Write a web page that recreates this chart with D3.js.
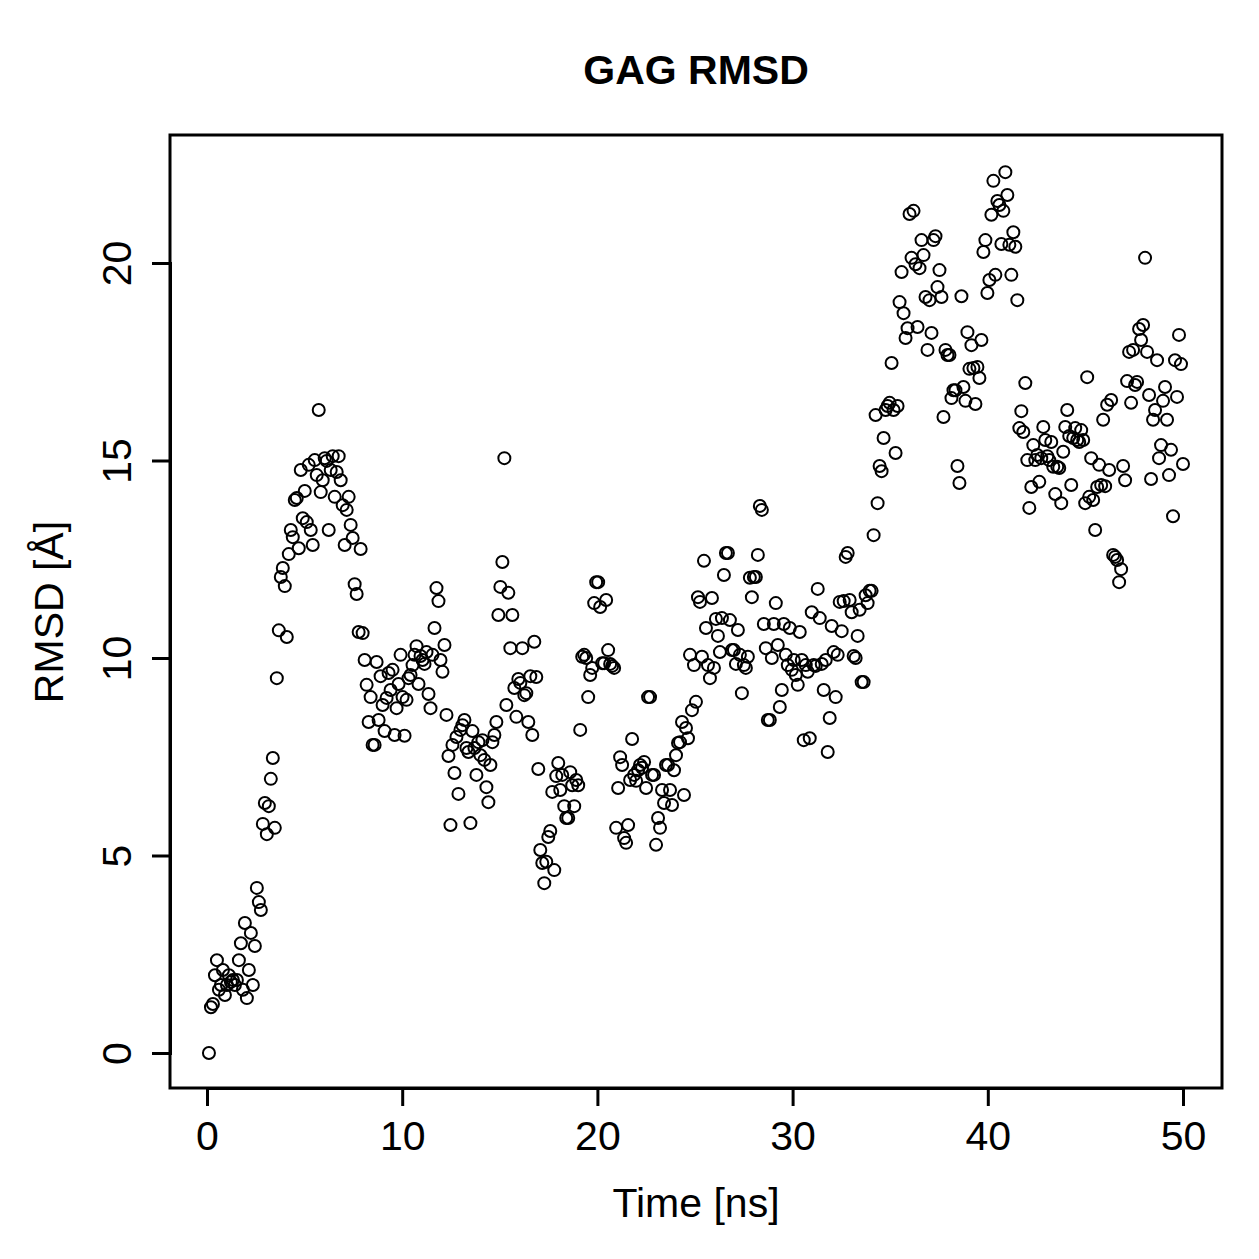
<!DOCTYPE html>
<html>
<head>
<meta charset="utf-8">
<script src="https://cdn.jsdelivr.net/npm/d3@7"></script>
<style>
  html, body { margin: 0; padding: 0; background: #fff; }
  svg { display: block; }
  text { font-family: "Liberation Sans", Arial, Helvetica, sans-serif; fill: #000; }
</style>
</head>
<body>
<svg id="chart" width="1259" height="1259"></svg>
<script>
// ---- data ----
const chartTitle = "GAG RMSD";
const xLabel = "Time [ns]";
const yLabel = "RMSD [Å]";
const xTicks = [0, 10, 20, 30, 40, 50];
const yTicks = [0, 5, 10, 15, 20];
const timeFirst = 0.1;   // ns
const timeLast = 50.0;   // ns
const rmsd = [
0.0,1.16,1.24,1.97,2.35,1.6,1.72,2.1,1.47,1.72,1.97,1.8,1.85,1.72,1.85,2.35,2.78,1.6,3.29,1.39,2.1,3.04,1.72,2.71,4.18,3.82,3.62,5.8,6.33,5.54,6.25,6.94,7.47,5.7,9.49,10.7,12.05,12.28,11.82,10.53,12.63,13.24,13.06,14.0,14.05,12.78,14.76,13.54,14.23,13.44,14.89,13.24,12.86,15.01,14.63,16.28,14.2,14.5,15.06,14.99,13.24,14.76,15.11,14.08,14.71,15.11,14.5,13.87,12.86,13.75,14.08,13.37,13.04,11.87,11.62,10.66,12.76,10.63,9.95,9.32,8.38,9.01,7.8,7.8,9.9,8.43,9.54,8.81,8.15,8.99,9.62,9.19,9.7,8.05,8.73,9.34,10.08,9.01,8.03,8.94,9.49,9.57,9.82,10.08,10.3,9.34,10.05,9.95,9.85,10.15,9.09,8.73,10.08,10.76,11.77,11.44,9.95,9.65,10.33,8.56,7.52,5.77,7.8,7.09,8.0,6.56,8.18,8.3,8.43,7.72,7.62,5.82,8.15,7.72,7.04,7.87,7.54,7.92,7.42,6.73,6.35,7.29,7.87,8.05,8.38,11.09,11.8,12.43,15.06,8.81,11.65,10.25,11.09,9.24,8.51,9.47,9.37,10.25,9.06,9.11,8.38,9.54,8.05,10.41,9.52,7.19,5.14,4.81,4.3,4.84,5.47,5.62,6.61,4.63,7.01,7.34,6.66,7.04,6.25,5.95,5.95,7.11,6.78,6.25,6.91,6.78,8.18,10.03,10.08,10.0,9.01,9.57,9.75,11.39,11.92,11.92,11.29,9.87,9.87,11.47,10.2,9.85,9.8,9.75,5.7,6.71,7.49,7.29,5.44,5.32,5.77,6.91,7.95,7.04,6.89,7.16,7.29,7.22,7.37,6.71,9.01,9.01,7.04,7.04,5.27,5.95,5.7,6.66,6.33,7.29,7.29,6.66,6.28,7.16,7.54,7.85,7.87,8.38,6.53,8.23,7.97,10.08,8.68,9.82,8.89,11.54,11.42,10.03,12.46,10.76,9.82,9.49,11.52,9.75,10.99,10.56,10.15,11.01,12.1,12.66,12.66,10.96,10.2,10.2,9.85,10.71,10.08,9.11,9.82,9.75,10.03,12.03,11.54,12.05,12.05,12.61,13.85,13.75,10.86,10.25,8.43,8.43,10.0,10.86,11.39,10.33,8.76,9.19,10.86,10.08,9.82,10.76,9.7,9.95,9.57,9.32,10.66,9.95,7.92,9.82,9.65,7.97,11.16,9.82,9.8,11.75,11.01,9.85,9.19,9.95,7.62,8.48,10.81,10.15,9.01,10.08,11.42,10.68,11.44,12.56,12.66,11.47,11.16,10.05,10.0,10.56,11.22,9.39,9.39,11.59,11.39,11.7,11.7,13.11,16.15,13.92,14.86,14.73,15.57,16.28,16.38,16.46,17.47,16.28,15.19,16.38,19.01,19.77,18.73,18.1,18.35,21.24,20.13,21.32,19.97,18.38,19.87,20.58,20.2,19.14,17.8,19.06,18.23,20.58,20.68,19.39,19.82,19.14,16.1,17.8,17.67,17.67,16.58,16.78,16.78,14.86,14.43,19.16,16.86,16.51,18.25,17.32,17.92,17.34,16.43,17.37,17.09,18.05,20.28,20.58,19.24,19.57,21.22,22.08,19.7,21.57,21.47,20.48,21.32,22.3,21.72,20.46,19.7,20.78,20.41,19.06,15.82,16.25,15.72,16.96,15.01,13.8,14.33,15.39,15.01,15.14,14.46,15.06,15.85,15.52,15.11,15.01,15.47,14.84,14.15,14.84,14.81,13.92,15.22,15.85,16.28,15.62,14.38,15.57,15.82,15.52,15.47,15.77,15.52,13.92,17.11,14.08,15.06,14.0,13.24,14.33,14.89,14.38,16.03,14.35,16.41,14.76,16.53,12.61,12.56,12.48,11.92,12.25,14.86,14.5,17.01,17.75,16.46,17.8,16.91,16.99,18.33,18.05,18.43,20.13,17.75,16.66,14.53,16.03,16.28,17.54,15.06,15.39,16.51,16.86,16.03,14.63,15.27,13.59,17.54,16.61,18.18,17.44,14.91
];
const times = rmsd.map((_, i) => timeFirst + i * (timeLast - timeFirst) / (rmsd.length - 1));
const points = rmsd.map((v, i) => ({ t: times[i], v: v }));

// ---- layout ----
const box = { left: 170, right: 1222, top: 135, bottom: 1088 };
const x = d3.scaleLinear().domain([0, 50]).range([207, 1183]);
const y = d3.scaleLinear().domain([0, 20]).range([1053, 263]);

const svg = d3.select("#chart");
svg.append("rect").attr("width", 1259).attr("height", 1259).attr("fill", "#fff");

// points
svg.append("g").selectAll("circle").data(points).join("circle")
  .attr("cx", d => x(d.t))
  .attr("cy", d => y(d.v))
  .attr("r", 6)
  .attr("fill", "none")
  .attr("stroke", "#000")
  .attr("stroke-width", 2);

// box
svg.append("rect")
  .attr("x", box.left).attr("y", box.top)
  .attr("width", box.right - box.left).attr("height", box.bottom - box.top)
  .attr("fill", "none").attr("stroke", "#000").attr("stroke-width", 3);

// x axis
const gx = svg.append("g").attr("transform", `translate(0,${box.bottom})`)
  .call(d3.axisBottom(x).tickValues(xTicks).tickSize(18).tickPadding(15).tickFormat(d3.format("d")));
gx.selectAll("path, line").attr("stroke", "#000").attr("stroke-width", 3);
gx.selectAll("text").attr("font-size", 41).attr("font-family", "Liberation Sans, Arial, sans-serif").attr("fill", "#000");

// y axis
const gy = svg.append("g").attr("transform", `translate(${box.left},0)`)
  .call(d3.axisLeft(y).tickValues(yTicks).tickSize(18).tickFormat(d3.format("d")));
gy.selectAll("path, line").attr("stroke", "#000").attr("stroke-width", 3);
gy.selectAll("text")
  .attr("font-size", 41).attr("font-family", "Liberation Sans, Arial, sans-serif").attr("fill", "#000")
  .attr("transform", "rotate(-90)")
  .attr("x", 0).attr("y", -39).attr("dy", 0)
  .attr("text-anchor", "middle");

// titles
svg.append("text").attr("x", 696).attr("y", 84).attr("text-anchor", "middle")
  .attr("font-size", 41).attr("font-weight", "bold").text(chartTitle);
svg.append("text").attr("x", 696).attr("y", 1217).attr("text-anchor", "middle")
  .attr("font-size", 41).text(xLabel);
svg.append("text").attr("transform", "translate(63,612) rotate(-90)").attr("text-anchor", "middle")
  .attr("font-size", 41).text(yLabel);
</script>
</body>
</html>
